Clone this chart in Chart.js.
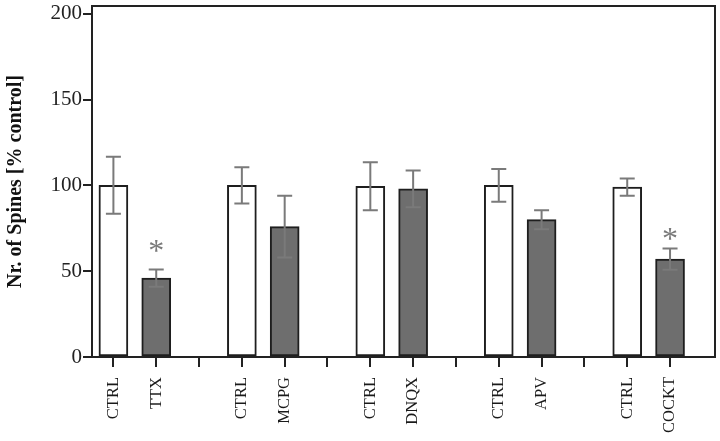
<!DOCTYPE html>
<html>
<head>
<meta charset="utf-8">
<script src="https://cdn.jsdelivr.net/npm/chart.js@4.4.1/dist/chart.umd.min.js"></script>
<style>
  body { margin: 0; background: #fff; }
  #wrap { width: 720px; height: 441px; }
</style>
</head>
<body>
<div id="wrap"><canvas id="spines"></canvas></div>
<script>
// slots on the x axis, '' = gap between groups
const labels = ["CTRL", "TTX", "", "CTRL", "MCPG", "", "CTRL", "DNQX", "", "CTRL", "APV", "", "CTRL", "COCKT"];
const values = [100, 46, null, 100, 76, null, 99.5, 98, null, 100, 80, null, 99, 57];
const errors = [16.6, 5, null, 10.5, 18, null, 14, 10.7, null, 9.6, 5.5, null, 5, 6.2];
// significant vs control: slot index and height of the asterisk
const stars = [1, 13];
const starLevels = [63.5, 71];
const yTicks = [0, 50, 100, 150, 200];

const serif = "'Liberation Serif', 'DejaVu Serif', serif";

// error bars, asterisks and the box round the plot
const extras = {
  id: "extras",
  afterDatasetsDraw(chart) {
    const { ctx, chartArea: a, scales: { x, y } } = chart;
    ctx.save();
    ctx.strokeStyle = "#7a7a7a";
    ctx.lineWidth = 2;
    values.forEach((v, i) => {
      if (v === null) return;
      const px = x.getPixelForValue(i);
      const top = y.getPixelForValue(v + errors[i]);
      const bot = y.getPixelForValue(v - errors[i]);
      ctx.beginPath();
      ctx.moveTo(px, top); ctx.lineTo(px, bot);
      ctx.moveTo(px - 7.5, top); ctx.lineTo(px + 7.5, top);
      ctx.moveTo(px - 7.5, bot); ctx.lineTo(px + 7.5, bot);
      ctx.stroke();
    });
    ctx.fillStyle = "#7a7a7a";
    ctx.font = "32px " + serif;
    ctx.textAlign = "center";
    ctx.textBaseline = "middle";
    stars.forEach((i, k) => {
      // glyph sits high in its box, so nudge it down
      ctx.fillText("*", x.getPixelForValue(i), y.getPixelForValue(starLevels[k]) + 5);
    });
    ctx.strokeStyle = "#222";
    ctx.lineWidth = 2;
    ctx.strokeRect(a.left, a.top, a.right - a.left, a.bottom - a.top);
    ctx.restore();
  }
};

new Chart(document.getElementById("spines"), {
  type: "bar",
  data: {
    datasets: [{
      data: values.map((v, i) => ({ x: i, y: v })).filter(p => p.y !== null),
      backgroundColor: c => labels[c.raw.x] === "CTRL" ? "#ffffff" : "#6e6e6e",
      borderColor: "#1e1e1e",
      borderWidth: 2,
      borderSkipped: false,
      barThickness: 29
    }]
  },
  options: {
    responsive: true,
    maintainAspectRatio: false,
    animation: false,
    layout: { padding: { top: 6, right: 5, left: 0, bottom: 0 } },
    plugins: { legend: { display: false }, tooltip: { enabled: false } },
    scales: {
      x: {
        type: "linear",
        offset: false,
        min: -0.5,
        max: 14.05,
        afterBuildTicks: s => { s.ticks = labels.map((l, i) => ({ value: i })); },
        afterFit: s => { s.height = 84; s.paddingLeft = 0; s.paddingRight = 0; },
        grid: { offset: false, drawOnChartArea: false, color: "#222", lineWidth: 2, tickLength: 10 },
        border: { color: "#222", width: 2 },
        ticks: {
          autoSkip: false,
          minRotation: 90,
          maxRotation: 90,
          padding: 10,
          color: "#1a1a1a",
          font: { family: serif, size: 16.5 },
          callback: v => labels[v] || ""
        }
      },
      y: {
        min: 0,
        max: 204.5,
        afterBuildTicks: s => { s.ticks = yTicks.map(v => ({ value: v })); },
        afterFit: s => { s.width = 92; s.paddingTop = 0; s.paddingBottom = 0; },
        grid: { drawOnChartArea: false, color: "#222", lineWidth: 2, tickLength: 9 },
        border: { color: "#222", width: 2 },
        ticks: {
          padding: 1,
          color: "#222",
          font: { family: serif, size: 21 }
        },
        title: {
          display: true,
          text: "Nr. of Spines [% control]",
          color: "#111",
          font: { family: serif, size: 20, weight: "bold" }
        }
      }
    }
  },
  plugins: [extras]
});
</script>
</body>
</html>
